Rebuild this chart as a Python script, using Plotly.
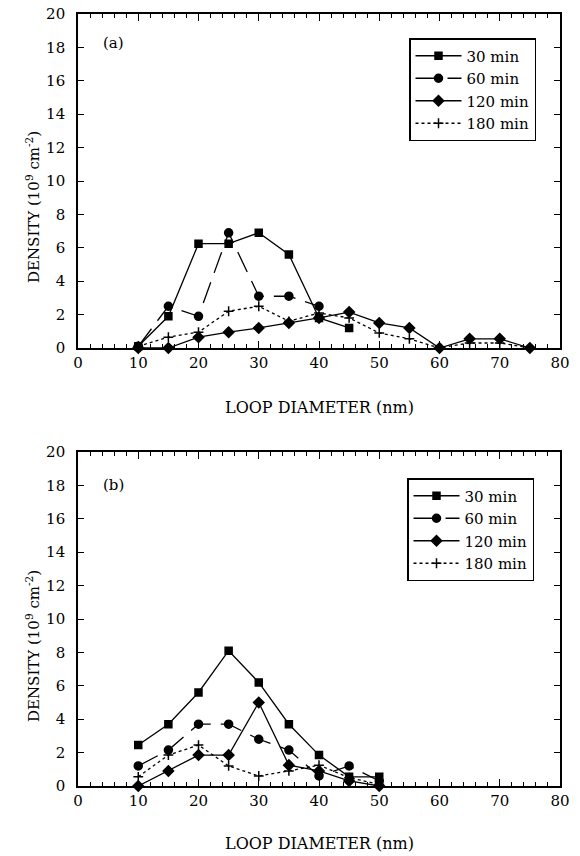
import plotly.graph_objects as go

# ---- data ----
diam_a = [10, 15, 20, 25, 30, 35, 40, 45, 50, 55, 60, 65, 70, 75]
a_30 = [0.1, 1.9, 6.25, 6.25, 6.9, 5.6, 1.8, 1.2]
a_60 = [0.1, 2.5, 1.9, 6.9, 3.1, 3.1, 2.5]
a_120 = [0.0, 0.0, 0.65, 0.95, 1.2, 1.5, 1.8, 2.15, 1.5, 1.2, 0.0, 0.55, 0.55, 0.0]
a_180 = [0.1, 0.65, 0.95, 2.2, 2.5, 1.6, 2.1, 1.8, 0.9, 0.55, 0.0, 0.3, 0.3, 0.0]

diam_b = [10, 15, 20, 25, 30, 35, 40, 45, 50]
b_30 = [2.45, 3.7, 5.6, 8.1, 6.2, 3.7, 1.85, 0.55, 0.55]
b_60 = [1.2, 2.15, 3.7, 3.7, 2.8, 2.15, 0.6, 1.2, 0.3]
b_120 = [0.0, 0.9, 1.85, 1.85, 5.0, 1.25, 0.9, 0.3, 0.0]
b_180 = [0.55, 1.85, 2.45, 1.2, 0.6, 0.9, 1.25, 0.5, 0.1]

labels = ["30 min", "60 min", "120 min", "180 min"]
x_ticks = [0, 10, 20, 30, 40, 50, 60, 70, 80]
y_ticks = [0, 2, 4, 6, 8, 10, 12, 14, 16, 18, 20]

FONT = "DejaVu Serif"
styles = [
    dict(symbol="square", size=7, dash="solid"),
    dict(symbol="circle", size=8, dash="22px,10px"),
    dict(symbol="diamond", size=8, dash="solid"),
    dict(symbol="cross-thin", size=7, dash="dot"),
]

fig = go.Figure()
panels = [
    (diam_a, [a_30, a_60, a_120, a_180], "x", "y", "legend"),
    (diam_b, [b_30, b_60, b_120, b_180], "x2", "y2", "legend2"),
]
for xs, series, xa, ya, lg in panels:
    for lab, vals, st in zip(labels, series, styles):
        fig.add_trace(go.Scatter(
            x=xs[:len(vals)], y=vals, name=lab, mode="lines+markers",
            xaxis=xa, yaxis=ya, legend=lg, cliponaxis=False,
            line=dict(color="black", width=1.3, dash=st["dash"]),
            marker=dict(symbol=st["symbol"], size=st["size"], color="black",
                        line=dict(color="black", width=1.5)),
        ))

xcommon = dict(range=[0, 80], tickvals=x_ticks, ticks="inside", ticklen=7,
               tickwidth=1.2, tickcolor="black", showline=True, linecolor="black",
               linewidth=1.6, mirror="ticks", showgrid=False, zeroline=False,
               minor=dict(dtick=2, ticks="inside", ticklen=4, tickcolor="black", tickwidth=1),
               tickfont=dict(family=FONT, size=15, color="black"))
ycommon = dict(range=[0, 20], tickvals=y_ticks, ticks="inside", ticklen=6,
               tickwidth=1.2, tickcolor="black", showline=True, linecolor="black",
               linewidth=1.6, mirror="ticks", showgrid=False, zeroline=False,
               ticklabelstandoff=8,
               tickfont=dict(family=FONT, size=15, color="black"))

legcommon = dict(bgcolor="white", bordercolor="black", borderwidth=1.5,
                 font=dict(family=FONT, size=15, color="black"),
                 xanchor="left", yanchor="top", tracegroupgap=0, itemwidth=46)

H = 856
plot_top, plot_bot = 14, 786
ph = plot_bot - plot_top
def py(pix):
    return (plot_bot - pix) / ph

fig.update_layout(
    width=580, height=H, plot_bgcolor="white", paper_bgcolor="white",
    margin=dict(l=78, r=20, t=plot_top, b=H - plot_bot, autoexpand=False),
    font=dict(family=FONT, color="black"),
    xaxis=dict(domain=[0, 1], anchor="y", **xcommon),
    yaxis=dict(domain=[py(348), 1], anchor="x", **ycommon),
    xaxis2=dict(domain=[0, 1], anchor="y2", **xcommon),
    yaxis2=dict(domain=[0, py(452)], anchor="x2", **ycommon),
    legend=dict(x=(409 - 78) / 482, y=py(38), **legcommon),
    legend2=dict(x=(407 - 78) / 482, y=py(478), **legcommon),
    showlegend=True,
)

ytitle = "DENSITY (10<sup>9</sup> cm<sup>-2</sup>)"
ann = []
for ymid, xt_y, tag, tag_y in [(207, 407, "(a)", 43), (646, 843, "(b)", 485)]:
    ann.append(dict(text=ytitle, x=(33 - 78) / 482, y=py(ymid), xref="paper", yref="paper",
                    xanchor="center", yanchor="middle",
                    textangle=-90, showarrow=False, font=dict(family=FONT, size=15)))
    ann.append(dict(text="LOOP DIAMETER (nm)", x=0.5, y=py(xt_y), xref="paper", yref="paper",
                    xanchor="center", yanchor="middle",
                    showarrow=False, font=dict(family=FONT, size=16)))
    ann.append(dict(text=tag, x=(113 - 78) / 482, y=py(tag_y), xref="paper", yref="paper",
                    xanchor="center", yanchor="middle",
                    showarrow=False, font=dict(family=FONT, size=15)))
fig.update_layout(annotations=ann)

fig.write_html("out.html", config={"displayModeBar": False},
               post_script="document.body.style.margin='0';")
